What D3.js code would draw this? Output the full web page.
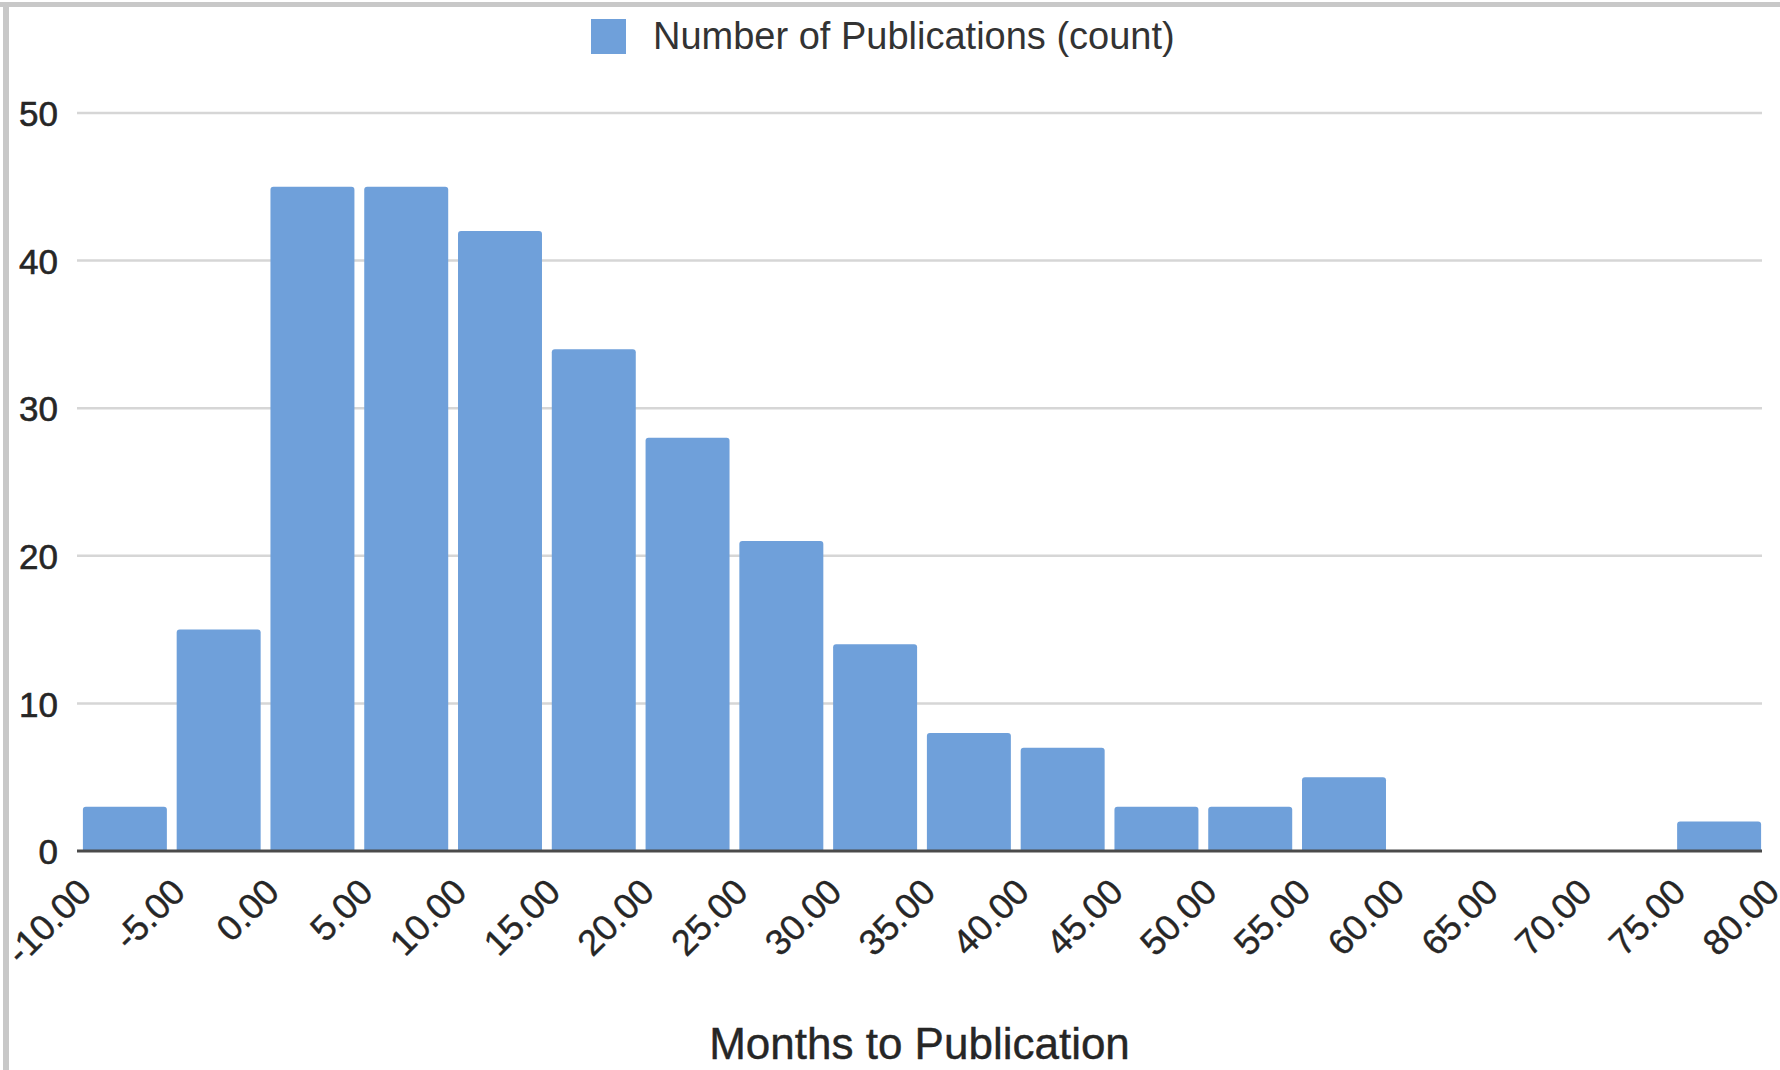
<!DOCTYPE html>
<html>
<head>
<meta charset="utf-8">
<script src="https://cdn.jsdelivr.net/npm/d3@7"></script>
<style>
  html, body { margin: 0; padding: 0; background: #fff; }
  svg { display: block; font-family: "Liberation Sans", Arial, sans-serif; }
</style>
</head>
<body>
<svg id="chart" width="1780" height="1070"></svg>
<script>
// Histogram bins (months) and publication counts per bin
const binStarts = [-10, -5, 0, 5, 10, 15, 20, 25, 30, 35, 40, 45, 50, 55, 60, 65, 70, 75];
const binEnds   = [-5, 0, 5, 10, 15, 20, 25, 30, 35, 40, 45, 50, 55, 60, 65, 70, 75, 80];
const counts    = [3, 15, 45, 45, 42, 34, 28, 21, 14, 8, 7, 3, 3, 5, 0, 0, 0, 2];

const xTickValues = [-10, -5, 0, 5, 10, 15, 20, 25, 30, 35, 40, 45, 50, 55, 60, 65, 70, 75, 80];
const yTickValues = [0, 10, 20, 30, 40, 50];

const seriesName = "Number of Publications (count)";
const xTitle = "Months to Publication";

const barColor = "#6fa0da";
const textColor = "#262626";
const W = 1780, H = 1070;
const svg = d3.select("#chart");

const x = d3.scaleLinear().domain([-10, 80]).range([78, 1766]);
const y = d3.scaleLinear().domain([0, 50]).range([851, 113]);
const gridLeft = 77, gridRight = 1762;

// frame edges
svg.append("rect").attr("x", 0).attr("y", 0).attr("width", W).attr("height", H).attr("fill", "#fff");
svg.append("rect").attr("x", 0).attr("y", 2).attr("width", W).attr("height", 5).attr("fill", "#c8c8c8");
svg.append("rect").attr("x", 3).attr("y", 2).attr("width", 6).attr("height", H).attr("fill", "#c8c8c8");

// horizontal gridlines
svg.append("g").selectAll("line")
  .data(yTickValues.filter(v => v !== 0))
  .join("line")
  .attr("x1", gridLeft).attr("x2", gridRight)
  .attr("y1", d => y(d)).attr("y2", d => y(d))
  .attr("stroke", "#d6d6d6").attr("stroke-width", 2.5);

// y axis labels
const yAxis = d3.axisLeft(y).tickValues(yTickValues).tickSize(0).tickPadding(0).tickFormat(d => String(d));
const gy = svg.append("g").attr("transform", "translate(58,0)").call(yAxis);
gy.select(".domain").remove();
gy.selectAll("text")
  .attr("font-size", 35).attr("fill", textColor)
  .attr("stroke", textColor).attr("stroke-width", 0.6)
  .attr("font-family", "'Liberation Sans', Arial, sans-serif")
  .attr("dy", "0.36em");

// bars with slightly rounded top corners
const gap = 4.9, r = 3;
function barPath(i) {
  const x0 = x(binStarts[i]) + gap, x1 = x(binEnds[i]) - gap;
  const y0 = y(0), y1 = y(counts[i]);
  return `M${x0},${y0}V${y1 + r}Q${x0},${y1} ${x0 + r},${y1}H${x1 - r}Q${x1},${y1} ${x1},${y1 + r}V${y0}Z`;
}
svg.append("g").selectAll("path")
  .data(counts.map((c, i) => i).filter(i => counts[i] > 0))
  .join("path")
  .attr("d", i => barPath(i))
  .attr("fill", barColor);

// baseline
svg.append("line")
  .attr("x1", gridLeft).attr("x2", gridRight)
  .attr("y1", y(0)).attr("y2", y(0))
  .attr("stroke", "#4a4a4a").attr("stroke-width", 3);

// slanted x tick labels at bin edges
const xAxis = d3.axisBottom(x).tickValues(xTickValues).tickSize(0).tickPadding(0).tickFormat(d => d.toFixed(2));
const gx = svg.append("g").attr("transform", `translate(0,${y(0)})`).call(xAxis);
gx.select(".domain").remove();
gx.selectAll("text")
  .attr("font-size", 36).attr("fill", textColor)
  .attr("stroke", textColor).attr("stroke-width", 0.4)
  .attr("font-family", "'Liberation Sans', Arial, sans-serif")
  .attr("text-anchor", "end")
  .attr("y", 0).attr("dy", 0)
  .attr("transform", "translate(15,43) rotate(-45)");

// x axis title
svg.append("text")
  .attr("x", (gridLeft + gridRight) / 2).attr("y", 1059)
  .attr("text-anchor", "middle")
  .attr("font-size", 44).attr("fill", textColor)
  .attr("stroke", textColor).attr("stroke-width", 0.4)
  .text(xTitle);

// legend
const lg = svg.append("g");
lg.append("rect").attr("x", 591).attr("y", 19).attr("width", 35).attr("height", 35).attr("fill", barColor);
lg.append("text").attr("x", 653).attr("y", 49)
  .attr("font-size", 38).attr("fill", "#333")
  .text(seriesName);
</script>
</body>
</html>
